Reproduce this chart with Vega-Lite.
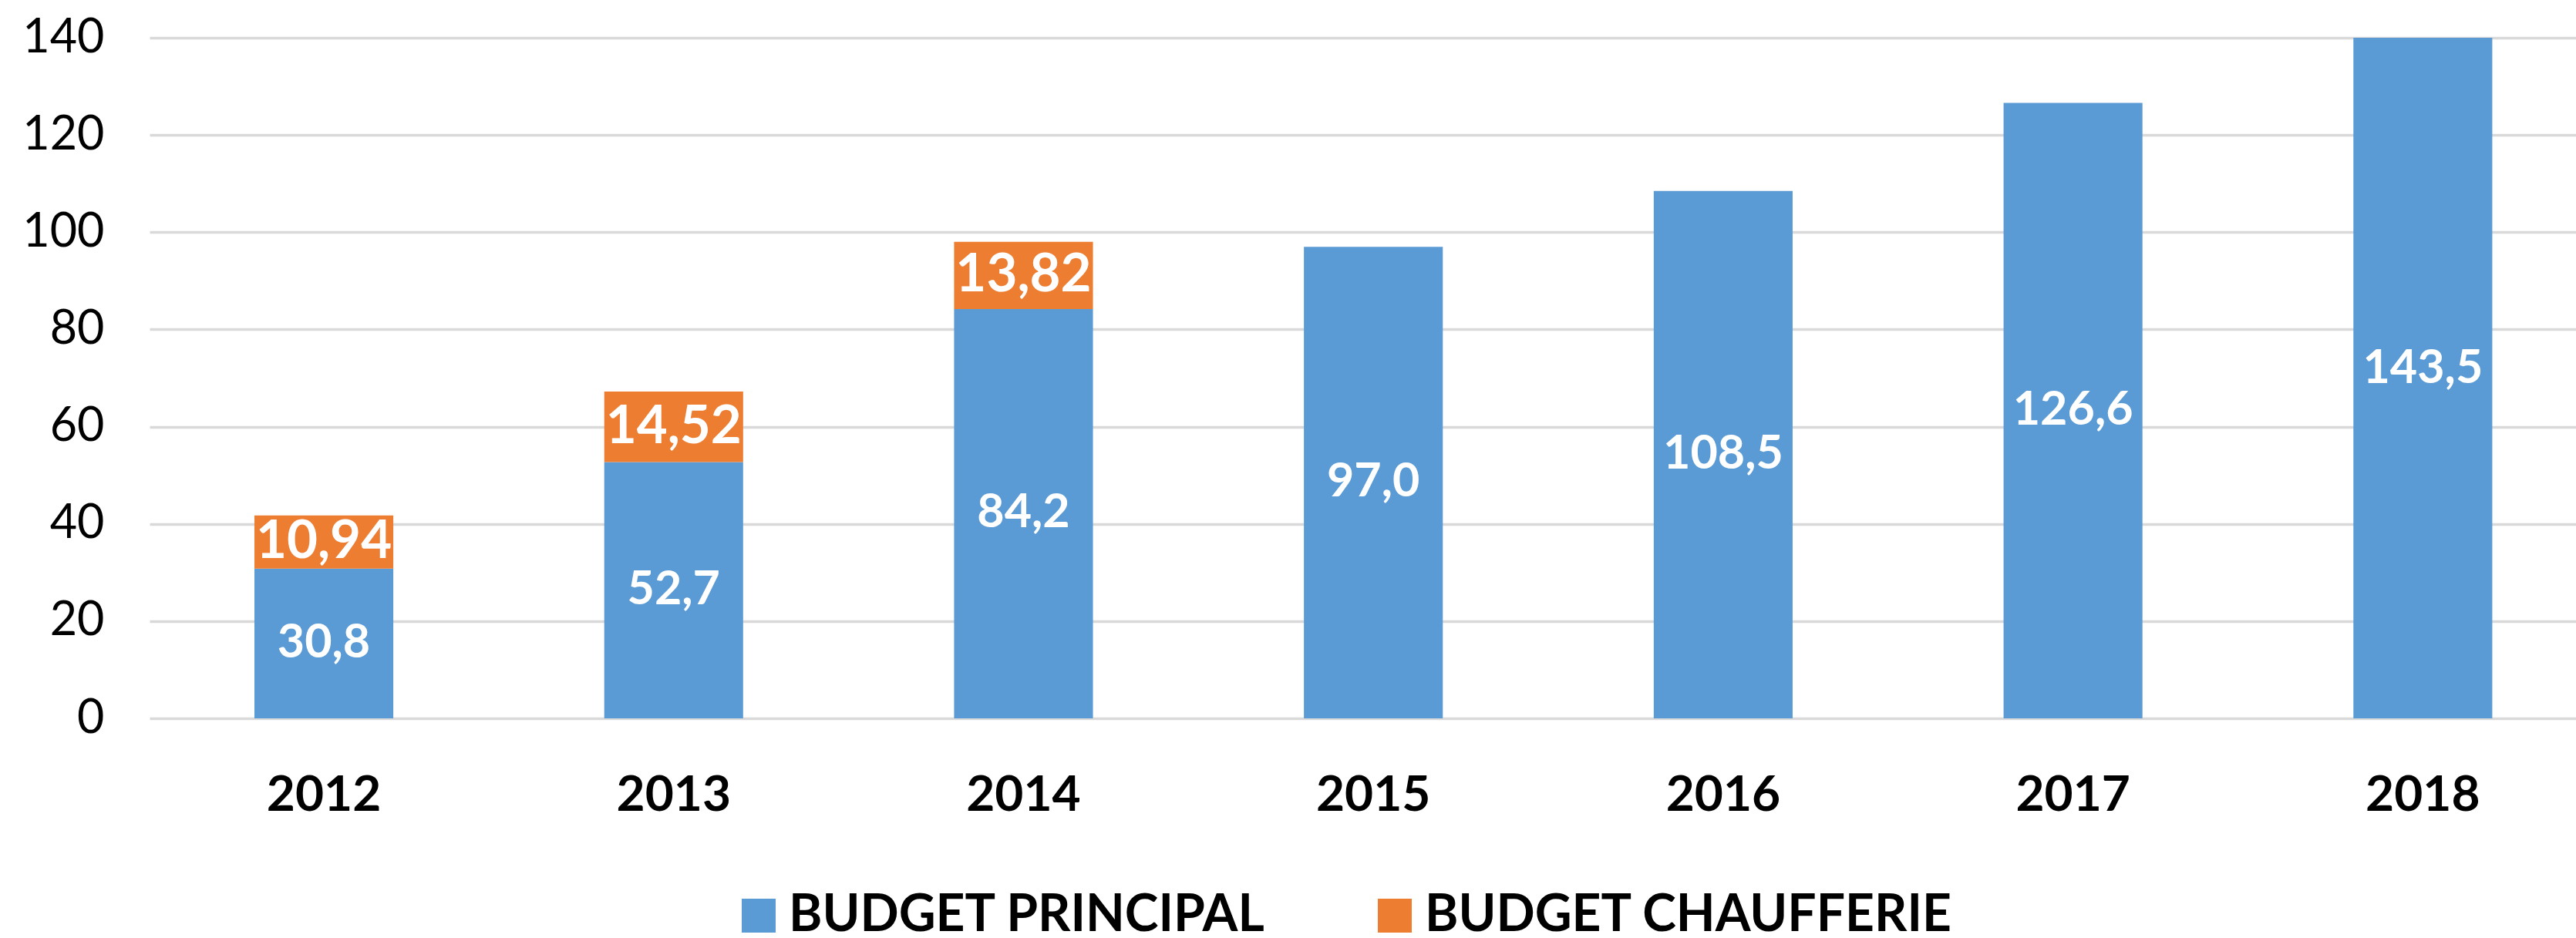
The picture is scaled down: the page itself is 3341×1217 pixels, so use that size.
{
  "$schema": "https://vega.github.io/schema/vega-lite/v6.json",
  "autosize": "none",
  "width": 3147,
  "height": 883,
  "padding": {"left": 194, "top": 49, "right": 0, "bottom": 285},
  "background": "white",
  "config": {
    "view": {"stroke": null},
    "font": "Lato",
    "locale": {"number": {"decimal": ",", "thousands": " ", "grouping": [3], "currency": ["", " €"]}}
  },
  "data": {
    "values": [
      {"year": "2012", "budget": "BUDGET PRINCIPAL", "value": 30.8},
      {"year": "2012", "budget": "BUDGET CHAUFFERIE", "value": 10.94},
      {"year": "2013", "budget": "BUDGET PRINCIPAL", "value": 52.7},
      {"year": "2013", "budget": "BUDGET CHAUFFERIE", "value": 14.52},
      {"year": "2014", "budget": "BUDGET PRINCIPAL", "value": 84.2},
      {"year": "2014", "budget": "BUDGET CHAUFFERIE", "value": 13.82},
      {"year": "2015", "budget": "BUDGET PRINCIPAL", "value": 97.0},
      {"year": "2016", "budget": "BUDGET PRINCIPAL", "value": 108.5},
      {"year": "2017", "budget": "BUDGET PRINCIPAL", "value": 126.6},
      {"year": "2018", "budget": "BUDGET PRINCIPAL", "value": 143.5}
    ]
  },
  "encoding": {
    "x": {
      "field": "year",
      "type": "ordinal",
      "scale": {"paddingInner": 0.603, "paddingOuter": 0.2695, "align": 0.556},
      "axis": {
        "title": null,
        "domain": false,
        "ticks": false,
        "labelAngle": 0,
        "labelFont": "Lato",
        "labelFontSize": 64,
        "labelFontWeight": "bold",
        "labelColor": "#000000",
        "labelPadding": 68
      }
    }
  },
  "layer": [
    {
      "mark": {"type": "bar", "clip": true},
      "encoding": {
        "y": {
          "field": "value",
          "type": "quantitative",
          "stack": "zero",
          "scale": {"domain": [0, 140], "nice": false},
          "axis": {
            "title": null,
            "values": [0, 20, 40, 60, 80, 100, 120, 140],
            "grid": true,
            "gridColor": "#D9D9D9",
            "gridWidth": 3.5,
            "domain": false,
            "ticks": false,
            "labelFont": "Lato",
            "labelFontSize": 61,
            "labelColor": "#000000",
            "labelPadding": 59
          }
        },
        "color": {
          "field": "budget",
          "type": "nominal",
          "scale": {"domain": ["BUDGET PRINCIPAL", "BUDGET CHAUFFERIE"], "range": ["#5B9BD5", "#ED7D31"]},
          "legend": {
            "title": null,
            "orient": "none",
            "legendX": 757,
            "legendY": 1106,
            "direction": "horizontal",
            "symbolType": "square",
            "symbolSize": 1936,
            "symbolStrokeWidth": 0,
            "labelFont": "Lato",
            "labelFontSize": 66,
            "labelFontWeight": "bold",
            "labelColor": "#000000",
            "labelOffset": 6,
            "columnPadding": 134,
            "labelLimit": 2000
          }
        },
        "order": {"field": "budget", "sort": "descending"}
      }
    },
    {
      "transform": [
        {"stack": "value", "groupby": ["year"], "sort": [{"field": "budget", "order": "descending"}], "as": ["v0", "v1"]},
        {"fold": ["v0", "v1"], "as": ["edge", "pos"]},
        {"aggregate": [{"op": "mean", "field": "pos", "as": "mid"}, {"op": "max", "field": "value", "as": "value"}], "groupby": ["year", "budget"]},
        {"filter": "datum.budget === 'BUDGET PRINCIPAL'"}
      ],
      "mark": {"type": "text", "fill": "#FFFFFF", "font": "Lato", "fontSize": 61, "fontWeight": "bold", "baseline": "middle", "align": "center"},
      "encoding": {
        "y": {"field": "mid", "type": "quantitative"},
        "text": {"field": "value", "type": "quantitative", "format": ".1f"}
      }
    },
    {
      "transform": [
        {"stack": "value", "groupby": ["year"], "sort": [{"field": "budget", "order": "descending"}], "as": ["v0", "v1"]},
        {"fold": ["v0", "v1"], "as": ["edge", "pos"]},
        {"aggregate": [{"op": "mean", "field": "pos", "as": "mid"}, {"op": "max", "field": "value", "as": "value"}], "groupby": ["year", "budget"]},
        {"filter": "datum.budget === 'BUDGET CHAUFFERIE'"}
      ],
      "mark": {"type": "text", "fill": "#FFFFFF", "font": "Lato", "fontSize": 69, "fontWeight": "bold", "baseline": "middle", "align": "center"},
      "encoding": {
        "y": {"field": "mid", "type": "quantitative"},
        "text": {"field": "value", "type": "quantitative", "format": ".2f"}
      }
    }
  ]
}
